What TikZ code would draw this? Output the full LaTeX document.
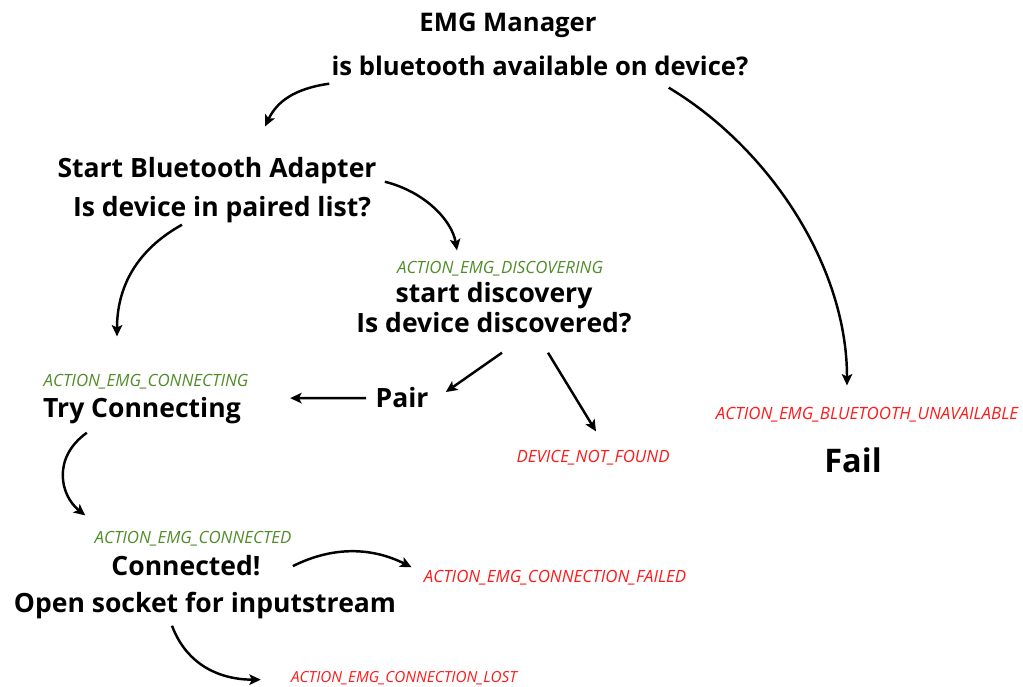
\documentclass[tikz,border=0pt]{standalone}
\usepackage{fontspec}
\setmainfont{Open Sans}
\usepackage{tikz}
\usetikzlibrary{arrows.meta,calc}
\definecolor{actgreen}{RGB}{80,140,40}
\definecolor{actred}{RGB}{255,25,25}

\begin{document}
\begin{tikzpicture}[x=0.02cm,y=-0.02cm,
  state/.style={font=\fontsize{15.1}{18}\selectfont\bfseries, anchor=base, inner sep=0pt},
  head/.style={state, font=\fontsize{14.6}{17}\selectfont\bfseries},
  act/.style={font=\fontsize{9.6}{11}\selectfont\itshape, text=actgreen, anchor=base, inner sep=0pt},
  fault/.style={act, text=actred},
  flow/.style={-{Stealth[length=6.5pt,width=6pt,inset=1.5pt]}, line width=1.4pt}]
\useasboundingbox (0,0) rectangle (1023,686);
% Manager and bluetooth check
\node[head] (title) at (508,32) {EMG Manager};
\node[head] (avail) at (540,75) {is bluetooth available on device?};
% Adapter
\node[state] (adapter) at (217,177) {Start Bluetooth Adapter};
\node[state] (paired) at (222,216) {Is device in paired list?};
% Discovery
\node[act] (discact) at (500,273) {ACTION\_EMG\_DISCOVERING};
\node[state] (discstart) at (494,302) {start discovery};
\node[state] (discq) at (494,332) {Is device discovered?};
\node[state] (pair) at (402,407) {Pair};
\node[fault] (notfound) at (593,462) {DEVICE\_NOT\_FOUND};
% Connecting
\node[act] (conact) at (146,386) {ACTION\_EMG\_CONNECTING};
\node[state] (trycon) at (142,417) {Try Connecting};
\node[act] (cdact) at (193,543) {ACTION\_EMG\_CONNECTED};
\node[state] (connected) at (186,575) {Connected!};
\node[state] (socket) at (205,612) {Open socket for inputstream};
\node[fault] (failact) at (555,582) {ACTION\_EMG\_CONNECTION\_FAILED};
\node[fault, font=\fontsize{8.7}{10}\selectfont\itshape] (lostact) at (404,682) {ACTION\_EMG\_CONNECTION\_LOST};
% Unavailable
\node[fault] (btact) at (867,419) {ACTION\_EMG\_BLUETOOTH\_UNAVAILABLE};
\node[state, font=\fontsize{18.5}{22}\selectfont\bfseries] (fail) at (853,472) {Fail};

% Transitions
\draw[flow] ($(avail.south west)+(-2,8)$) .. controls +(-35,5) and +(12,-25) .. ($(adapter.north)+(48,-30)$);
\draw[flow] ($(avail.south east)+(-80,12)$) .. controls +(100,60) and +(0,-120) .. ($(btact.north)+(-20,-21)$);
\draw[flow] ($(adapter.south east)+(8,-2)$) .. controls +(40,10) and +(-5,-30) .. ($(discact.north)+(-43,-10)$);
\draw[flow] ($(paired.south)+(-40,2)$) .. controls +(-45,25) and +(0,-50) .. ($(conact.north)+(-29,-37)$);
\draw[flow] ($(discq.south)+(8,20)$) -- ($(pair.east)+(17,-5)$);
\draw[flow] ($(discq.south)+(54,20)$) -- ($(notfound.north)+(3,-18)$);
\draw[flow] ($(pair.west)+(-9,1)$) -- ($(trycon.east)+(49,-12)$);
\draw[flow] ($(trycon.south west)+(44,9)$) .. controls +(-35,25) and +(-25,-20) .. ($(cdact.north west)+(-9,-15)$);
\draw[flow] ($(connected.east)+(32,1)$) .. controls +(40,-20) and +(-40,-20) .. ($(failact.west)+(-12,-10)$);
\draw[flow] ($(socket.south)+(-33,7)$) .. controls +(15,40) and +(-40,0) .. ($(lostact.west)+(-30,2)$);
\end{tikzpicture}
\end{document}
